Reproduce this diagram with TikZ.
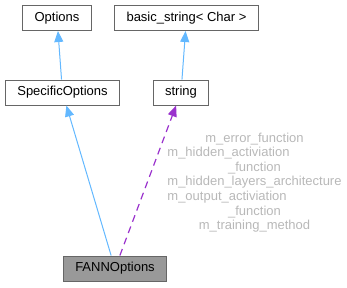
\documentclass[tikz,border=0pt]{standalone}
\usepackage{fontspec}
\setsansfont{Liberation Sans}
\usepackage{tikz}
\usetikzlibrary{positioning, arrows.meta}
\definecolor{cedge}{HTML}{666666}
\definecolor{cfill}{HTML}{999999}
\definecolor{cblue}{HTML}{63B8FF}
\definecolor{cpurple}{HTML}{9A32CD}
\definecolor{clabel}{HTML}{B8B8B8}

\begin{document}
\begin{tikzpicture}[
  x=1pt, y=-1pt,
  font=\sffamily\fontsize{13}{14.6}\selectfont,
  classbox/.style={
    rectangle, draw=cedge, fill=white, line width=1pt,
    inner xsep=12pt, inner ysep=0pt,
    minimum height=25pt
  },
  classboxhl/.style={
    classbox, fill=cfill
  },
  inheritarrow/.style={
    draw=cblue, line width=1pt,
    -{Triangle[length=11pt, width=9pt, fill=cblue]}
  },
  usagearrow/.style={
    draw=cpurple, line width=1.2pt, dash pattern=on 7pt off 5pt,
    -{Triangle[length=11pt, width=9pt, fill=cpurple]}
  },
  memberlabel/.style={
    text=clabel, inner sep=0pt
  }
]
\useasboundingbox (0,0) rectangle (347,287);

\node[classbox] (opt) at (57, 18) {Options};
\node[classbox] (bstr) at (186.5, 18) {basic\_string< Char >};
\node[classbox] (spec) at (62.5, 92.5) {SpecificOptions};
\node[classbox] (str) at (181, 92.5) {string};
\node[classboxhl] (fann) at (115, 268.5) {FANNOptions};

\draw[inheritarrow] (spec) -- (opt);
\draw[inheritarrow] (str) -- (bstr);
\draw[inheritarrow] (fann) -- (spec);
\draw[usagearrow] (fann) -- (str);

\node[memberlabel] (mem) at (254.5, 183) {%
  \begin{tabular}{@{}c@{}}
    m\_error\_function\\
    \multicolumn{1}{@{}l@{}}{m\_hidden\_activiation}\\
    \_function\\
    m\_hidden\_layers\_architecture\\
    \multicolumn{1}{@{}l@{}}{m\_output\_activiation}\\
    \_function\\
    m\_training\_method
  \end{tabular}
};

\end{tikzpicture}
\end{document}
